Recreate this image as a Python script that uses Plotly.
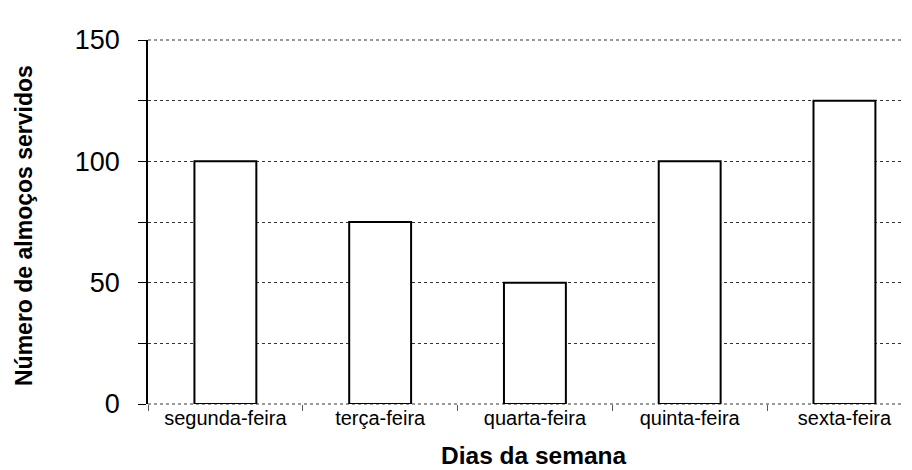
import plotly.graph_objects as go

dias = ["segunda-feira", "terça-feira", "quarta-feira", "quinta-feira", "sexta-feira"]
almocos = [100, 75, 50, 100, 125]
y_tick_vals = [0, 25, 50, 75, 100, 125, 150]
y_tick_text = ["0", "", "50", "", "100", "", "150"]
x_title = "Dias da semana"
y_title = "Número de almoços servidos"

FONT = "Arial, Liberation Sans, sans-serif"

# page body has an 8px default margin; compensate so the plot lands where the reference has it
W, H = 904, 462
ML, MR, MT, MB = 140, 1, 32, 66
PW = W - ML - MR
PH = H - MT - MB

def px_x(px):
    return (px - 8 - ML) / PW

def px_y(py):
    return (H - MB + 8 - py) / PH

fig = go.Figure()
fig.add_trace(go.Bar(
    x=dias, y=almocos, width=0.4,
    marker=dict(color="white", line=dict(color="black", width=2)),
))

edge_line = dict(color="#333", width=1, dash="dot")

fig.update_layout(
    width=W, height=H,
    margin=dict(l=ML, r=MR, t=MT, b=MB),
    plot_bgcolor="white", paper_bgcolor="white",
    showlegend=False,
    font=dict(family=FONT, color="black"),
    xaxis=dict(
        type="category", range=[-0.5, 4.43],
        tickson="boundaries", ticks="outside", ticklen=6, tickcolor="#555",
        tickwidth=1, showgrid=False, showline=False, zeroline=False,
        tickfont=dict(size=20, family=FONT, color="black"),
    ),
    yaxis=dict(
        range=[0, 150], tickvals=y_tick_vals, ticktext=y_tick_text,
        ticks="outside", ticklen=8, tickcolor="black", tickwidth=1,
        showline=True, linecolor="black", linewidth=1.5,
        showgrid=True, gridcolor="#333", griddash="dot", gridwidth=1,
        zeroline=False,
        tickfont=dict(size=27, family=FONT, color="black"),
        ticklabelstandoff=13,
    ),
    shapes=[
        dict(type="line", xref="paper", yref="y domain", x0=0, x1=1, y0=0, y1=0,
             line=edge_line, layer="below"),
        dict(type="line", xref="paper", yref="y domain", x0=0, x1=1, y0=1, y1=1,
             line=edge_line, layer="below"),
    ],
    annotations=[
        dict(text=f"<b>{x_title}</b>", xref="paper", yref="paper",
             x=px_x(534), y=px_y(455), xanchor="center", yanchor="middle",
             showarrow=False, font=dict(size=24.5, family=FONT, color="black")),
        dict(text=f"<b>{y_title}</b>", xref="paper", yref="paper",
             x=px_x(24), y=px_y(226), xanchor="center", yanchor="middle",
             textangle=-90, showarrow=False,
             font=dict(size=23, family=FONT, color="black")),
    ],
)

fig.write_html("out.html")
